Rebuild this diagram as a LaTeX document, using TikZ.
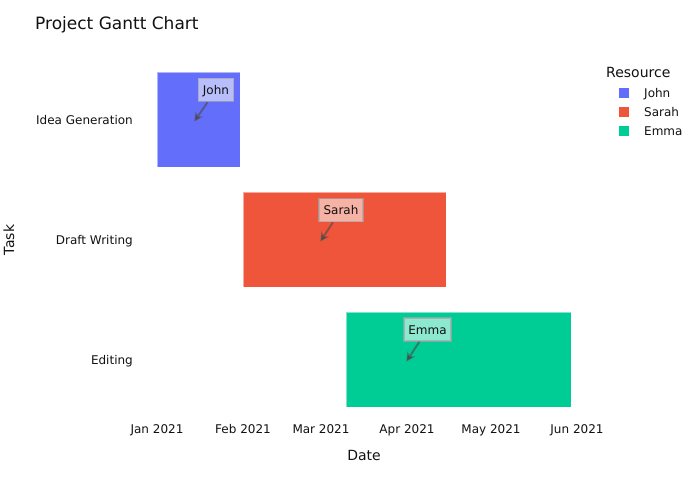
\documentclass[tikz,border=0pt]{standalone}
\usepackage{fontspec}
\setmainfont{DejaVu Sans}
\usetikzlibrary{arrows.meta}
\definecolor{cjohn}{HTML}{636EFA}
\definecolor{csarah}{HTML}{EF553B}
\definecolor{cemma}{HTML}{00CC96}
\definecolor{txt}{HTML}{111111}
\tikzset{
  bar/.style={draw=white, draw opacity=0.5, line width=0.5pt},
  tick/.style={font=\fontsize{12}{14}\selectfont, text=txt, inner sep=0pt},
  annbox/.style={draw=gray!70, line width=1.6pt, draw opacity=0.7, fill=white, fill opacity=0.55, text opacity=1, text=txt, font=\fontsize{12}{14}\selectfont, inner xsep=4.5pt, text height=10pt, text depth=1pt, minimum height=23pt},
  annarrow/.style={draw=black!70, draw opacity=0.6, line width=2pt, -{Stealth[length=9pt,width=9pt]}, shorten >=-3pt},
  legsq/.style={minimum size=11pt, inner sep=0pt, draw=white, line width=0.5pt},
  legtxt/.style={font=\fontsize{12}{14}\selectfont, text=txt, anchor=base west, inner sep=0pt}
}
\begin{document}
\begin{tikzpicture}[x=1pt,y=-1pt]
\useasboundingbox (0,0) rectangle (700,500);
% title
\node[anchor=base west, font=\fontsize{17}{20}\selectfont, text=txt, inner sep=0pt] (title) at (35,30) {Project Gantt Chart};
% bars
\path[bar, fill=cjohn] (157,72) rectangle (240,167);
\path[bar, fill=csarah] (243,192) rectangle (446,287);
\path[bar, fill=cemma] (346,312) rectangle (571,407);
% y tick labels
\node[tick, anchor=base east] (y1) at (133,124.5) {Idea Generation};
\node[tick, anchor=base east] (y2) at (133,244.5) {Draft Writing};
\node[tick, anchor=base east] (y3) at (133,364.5) {Editing};
% x tick labels
\node[tick, anchor=base] (x1) at (157,433.5) {Jan 2021};
\node[tick, anchor=base] (x2) at (243,433.5) {Feb 2021};
\node[tick, anchor=base] (x3) at (321,433.5) {Mar 2021};
\node[tick, anchor=base] (x4) at (407,433.5) {Apr 2021};
\node[tick, anchor=base] (x5) at (491,433.5) {May 2021};
\node[tick, anchor=base] (x6) at (577,433.5) {Jun 2021};
% axis titles
\node[anchor=base, font=\fontsize{14}{16}\selectfont, text=txt, inner sep=0pt] (xt) at (364,460) {Date};
\node[anchor=base, font=\fontsize{14}{16}\selectfont, text=txt, inner sep=0pt, rotate=90] (yt) at (14,240) {Task};
% annotations
\coordinate (tj) at (196,119);
\coordinate (ts) at (322,239);
\coordinate (te) at (408,359);
\node[annbox] (aj) at (216,90) {John};
\node[annbox] (as) at (341,210) {Sarah};
\node[annbox] (ae) at (427.5,329.5) {Emma};
\draw[annarrow] (aj) -- (tj);
\draw[annarrow] (as) -- (ts);
\draw[annarrow] (ae) -- (te);
% legend
\node[anchor=base west, font=\fontsize{14}{16}\selectfont, text=txt, inner sep=0pt] (lt) at (606,78) {Resource};
\node[legsq, fill=cjohn] (l1) at (624,92.5) {};
\node[legsq, fill=csarah] (l2) at (624,111.5) {};
\node[legsq, fill=cemma] (l3) at (624,130.5) {};
\node[legtxt] (lj) at (644,97) {John};
\node[legtxt] (ls) at (644,116) {Sarah};
\node[legtxt] (le) at (644,135) {Emma};
\end{tikzpicture}
\end{document}
